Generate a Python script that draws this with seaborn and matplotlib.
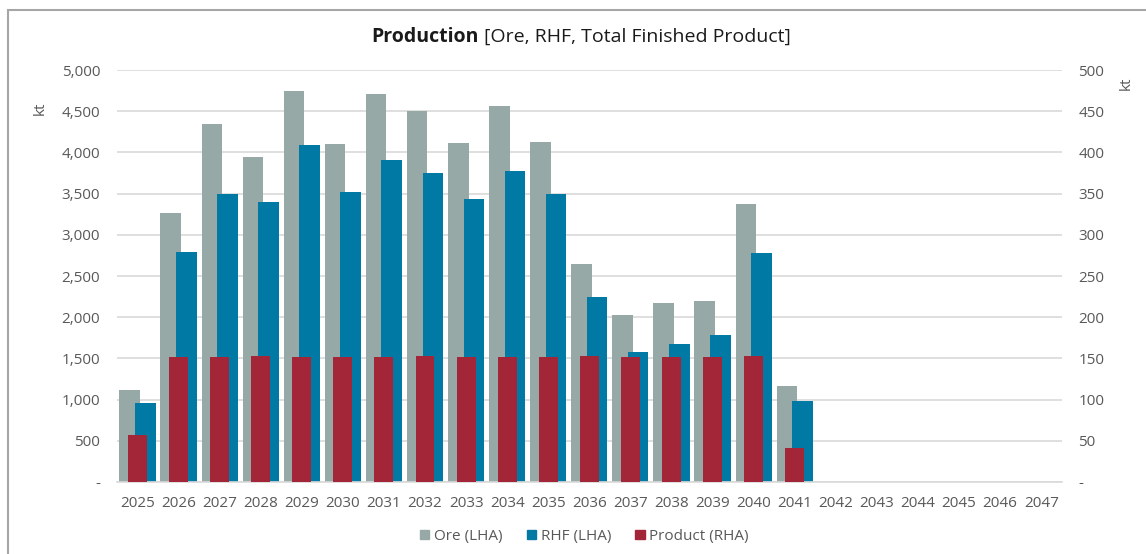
import numpy as np
import pandas as pd
import matplotlib.pyplot as plt
import matplotlib.ticker as mticker
from matplotlib.patches import Patch, Rectangle
import seaborn as sns

years = [str(y) for y in range(2025, 2048)]
ore = [1120, 3270, 4350, 3940, 4750, 4100, 4710, 4500, 4120, 4560, 4130,
       2650, 2030, 2170, 2200, 3370, 1170, 0, 0, 0, 0, 0, 0]
rhf = [960, 2790, 3500, 3400, 4090, 3520, 3910, 3750, 3440, 3770, 3500,
       2250, 1580, 1670, 1780, 2780, 980, 0, 0, 0, 0, 0, 0]
product = [57, 152, 152, 153, 152, 152, 152, 153, 152, 152, 152,
           153, 152, 152, 152, 153, 41, 0, 0, 0, 0, 0, 0]

C_ORE = "#97A9A7"
C_RHF = "#0079A5"
C_PROD = "#A32638"
TXT = "#595959"
FS = 11

sns.set_theme(style="white")
plt.rcParams["font.family"] = ["Open Sans", "DejaVu Sans"]

fig = plt.figure(figsize=(11.46, 5.54), dpi=100)
ax = fig.add_axes([0.102, 0.130, 0.8245, 0.7436])

left = pd.DataFrame({"year": years * 2,
                     "value": ore + rhf,
                     "series": ["Ore (LHA)"] * len(years) + ["RHF (LHA)"] * len(years)})
sns.barplot(data=left, x="year", y="value", hue="series", order=years,
            palette=[C_ORE, C_RHF], dodge=True, width=0.76, ax=ax,
            legend=False, saturation=1, errorbar=None)

# widen the dodged bars so they overlap like the original
for p in ax.patches:
    cx = p.get_x() + p.get_width() / 2
    p.set_width(0.5)
    p.set_x(cx - 0.25)
    p.set_linewidth(0)

fmt = mticker.FuncFormatter(lambda v, _: "-" if v == 0 else f"{v:,.0f}")

ax.set_ylim(0, 5000)
ax.set_xlim(-0.5, len(years) - 0.5)
ax.yaxis.set_major_locator(mticker.MultipleLocator(500))
ax.yaxis.set_major_formatter(fmt)
ax.grid(axis="y", color="#D9D9D9", linewidth=1.2)
ax.set_axisbelow(True)
for s in ["top", "right", "left"]:
    ax.spines[s].set_visible(False)
ax.spines["bottom"].set_color("#D9D9D9")
ax.spines["bottom"].set_linewidth(1.2)
ax.set_xlabel("")
ax.set_ylabel("")
ax.tick_params(axis="both", length=0, labelsize=FS, colors=TXT)
ax.tick_params(axis="y", pad=12)
ax.tick_params(axis="x", pad=10)

ax2 = ax.twinx()
right = pd.DataFrame({"year": years, "value": product})
sns.barplot(data=right, x="year", y="value", order=years, color=C_PROD,
            width=0.46, ax=ax2, saturation=1, errorbar=None)
for p in ax2.patches:
    p.set_linewidth(0)
ax2.set_ylim(0, 500)
ax2.set_xlim(-0.5, len(years) - 0.5)
ax2.yaxis.set_major_locator(mticker.MultipleLocator(50))
ax2.yaxis.set_major_formatter(fmt)
for s in ax2.spines.values():
    s.set_visible(False)
ax2.set_xlabel("")
ax2.set_ylabel("")
ax2.grid(False)
ax2.tick_params(axis="both", length=0, labelsize=FS, colors=TXT, pad=12)

fig.text(0.035, 0.805, "kt", rotation=90, fontsize=FS, color=TXT,
         ha="center", va="center")
fig.text(0.983, 0.85, "kt", rotation=90, fontsize=FS, color=TXT,
         ha="center", va="center")

# title: bold first word, regular rest
t1 = fig.text(0.324, 0.933, "Production", fontsize=14, fontweight="bold",
              color="#1A1A1A", ha="left", va="center")
renderer = fig.canvas.get_renderer()
bb = t1.get_window_extent(renderer).transformed(fig.transFigure.inverted())
fig.text(bb.x1 + 0.005, 0.933, "[Ore, RHF, Total Finished Product]",
         fontsize=14, color="#1A1A1A", ha="left", va="center")

handles = [Patch(color=C_ORE, label="Ore (LHA)"),
           Patch(color=C_RHF, label="RHF (LHA)"),
           Patch(color=C_PROD, label="Product (RHA)")]
fig.legend(handles=handles, loc="center", bbox_to_anchor=(0.51, 0.032),
           ncol=3, frameon=False, fontsize=FS, labelcolor=TXT,
           handlelength=0.6, handleheight=0.6, handletextpad=0.3,
           columnspacing=1.6)

fig.patches.append(Rectangle((0.007, -0.1), 1.1, 1.082, transform=fig.transFigure,
                             fill=False, edgecolor="#A6A6A6", linewidth=1.5))

fig.savefig("out.png", dpi=100)
